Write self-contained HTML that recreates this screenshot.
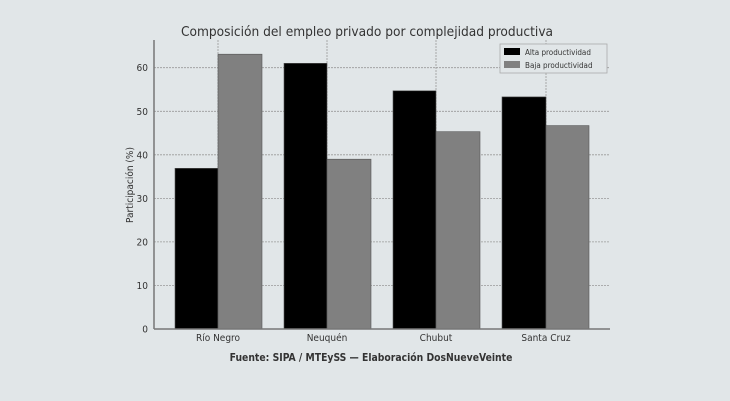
<!DOCTYPE html>
<html><head><meta charset="utf-8"><style>
html,body{margin:0;padding:0;background:#e1e6e8;}
svg{display:block;font-family:"DejaVu Sans Condensed","DejaVu Sans","Liberation Sans",sans-serif;}
</style></head><body>
<svg width="730" height="401" viewBox="0 0 730 401" xmlns="http://www.w3.org/2000/svg">
<rect width="730" height="401" fill="#e1e6e8"/>
<text x="367" y="36" font-size="13.6" fill="#333" text-anchor="middle">Composición del empleo privado por complejidad productiva</text>
<g stroke="#999" stroke-width="0.8" stroke-dasharray="2,1">
<line x1="154" x2="610" y1="285.5" y2="285.5"/>
<line x1="154" x2="610" y1="241.9" y2="241.9"/>
<line x1="154" x2="610" y1="198.4" y2="198.4"/>
<line x1="154" x2="610" y1="154.8" y2="154.8"/>
<line x1="154" x2="610" y1="111.3" y2="111.3"/>
<line x1="154" x2="610" y1="67.7" y2="67.7"/>
<line x1="218" x2="218" y1="40" y2="329"/>
<line x1="327" x2="327" y1="40" y2="329"/>
<line x1="436" x2="436" y1="40" y2="329"/>
<line x1="546" x2="546" y1="40" y2="329"/>
</g>
<g stroke="#555" stroke-width="0.6">
<rect x="175" y="168.3" width="43" height="160.7" fill="#000"/>
<rect x="218" y="54.2" width="44" height="274.8" fill="#808080"/>
<rect x="284" y="63.3" width="43" height="265.7" fill="#000"/>
<rect x="327" y="159.2" width="44" height="169.8" fill="#808080"/>
<rect x="393" y="90.8" width="43" height="238.2" fill="#000"/>
<rect x="436" y="131.7" width="44" height="197.3" fill="#808080"/>
<rect x="502" y="96.9" width="44" height="232.1" fill="#000"/>
<rect x="546" y="125.6" width="43" height="203.4" fill="#808080"/>
</g>
<line x1="154" x2="154" y1="40" y2="329" stroke="#777" stroke-width="1.5"/>
<line x1="154" x2="610" y1="329" y2="329" stroke="#777" stroke-width="1.5"/>
<g font-size="10" fill="#333" text-anchor="end">
<text x="148" y="332.5">0</text>
<text x="148" y="289">10</text>
<text x="148" y="245.5">20</text>
<text x="148" y="202">30</text>
<text x="148" y="158.3">40</text>
<text x="148" y="114.8">50</text>
<text x="148" y="71.2">60</text>
</g>
<g font-size="10" fill="#333" text-anchor="middle">
<text x="218" y="341">Río Negro</text>
<text x="327" y="341">Neuquén</text>
<text x="436" y="341">Chubut</text>
<text x="546" y="341">Santa Cruz</text>
</g>
<text transform="translate(133,185) rotate(-90)" font-size="10" fill="#333" text-anchor="middle">Participación (%)</text>
<text x="371" y="361" font-size="10.3" font-weight="bold" fill="#333" text-anchor="middle">Fuente: SIPA / MTEySS — Elaboración DosNueveVeinte</text>
<rect x="500" y="44" width="107" height="29" fill="#e1e6e8" stroke="#aaa" stroke-width="0.8"/>
<rect x="504" y="48" width="16" height="7" fill="#000"/>
<rect x="504" y="61" width="16" height="7" fill="#808080"/>
<g font-size="8" fill="#333">
<text x="525" y="55">Alta productividad</text>
<text x="525" y="68">Baja productividad</text>
</g>
</svg>
</body></html>
